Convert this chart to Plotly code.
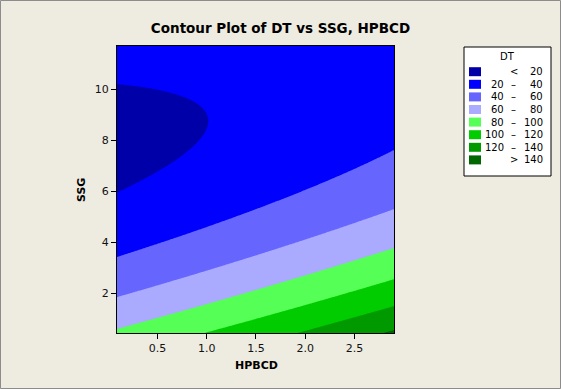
import numpy as np
import plotly.graph_objects as go

# Fitted response-surface model for DT:
# terms: const, HPBCD, SSG, HPBCD^2, SSG^2, HPBCD*SSG
coef_terms = ["const", "HPBCD", "SSG", "HPBCD^2", "SSG^2", "HPBCD*SSG"]
coef_values = [89.36, 19.15, -18.75, 0.974, 1.17, -1.725]

hpbcd_range = [0.09, 2.9]
ssg_range = [0.45, 11.7]

levels = [20, 40, 60, 80, 100, 120, 140]
band_colors = ["#0000A8", "#0000FF", "#6666FF", "#AAAAFF",
               "#55FF55", "#00CC00", "#009900", "#006600"]
x_ticks = [0.5, 1.0, 1.5, 2.0, 2.5]
x_tick_labels = ["0.5", "1.0", "1.5", "2.0", "2.5"]
y_ticks = [2, 4, 6, 8, 10]
y_tick_labels = ["2", "4", "6", "8", "10"]

W, H = 561, 389
L, R, T, B = 117, 394, 46, 333  # plot area in pixels


def px(xp):
    return (xp - L) / (R - L)


def py(yp):
    return (B - yp) / (B - T)


xs = np.linspace(hpbcd_range[0], hpbcd_range[1], 220)
ys = np.linspace(ssg_range[0], ssg_range[1], 220)
X, Y = np.meshgrid(xs, ys)
b0, b1, b2, b11, b22, b12 = coef_values
Z = b0 + b1 * X + b2 * Y + b11 * X ** 2 + b22 * Y ** 2 + b12 * X * Y

n = len(band_colors)
colorscale = []
for i, c in enumerate(band_colors):
    colorscale.append([i / n, c])
    colorscale.append([(i + 1) / n, c])

step = levels[1] - levels[0]
fig = go.Figure(go.Contour(
    x=xs, y=ys, z=Z,
    contours=dict(start=levels[0], end=levels[-1], size=step,
                  coloring="fill", showlines=False),
    colorscale=colorscale, showscale=False, line_width=0,
    hoverinfo="skip",
))

bg = "#EEEBE1"
font = "DejaVu Sans"

shapes = []
annotations = []

# outer frame of the picture
shapes.append(dict(type="rect", xref="paper", yref="paper",
                   x0=px(0.5), x1=px(W - 0.5), y0=py(H - 0.5), y1=py(0.5),
                   line=dict(color="#8C8C8C", width=1), fillcolor="rgba(0,0,0,0)",
                   layer="above"))

# legend box
lx0, lx1, ly0, ly1 = 464, 551, 47, 176
shapes.append(dict(type="rect", xref="paper", yref="paper",
                   x0=px(lx0), x1=px(lx1), y0=py(ly1), y1=py(ly0),
                   line=dict(color="black", width=1), fillcolor="white",
                   layer="above"))
annotations.append(dict(text="DT", xref="paper", yref="paper",
                        x=px(507.5), y=py(56), showarrow=False,
                        xanchor="center", yanchor="middle",
                        font=dict(family=font, size=10, color="black")))

row0, drow = 71.7, 12.6
labels = []
labels.append(("<", str(levels[0])))
for a, b in zip(levels[:-1], levels[1:]):
    labels.append((str(a), str(b)))
labels.append((">", str(levels[-1])))

for i, (c, (lft, rgt)) in enumerate(zip(band_colors, labels)):
    yc = row0 + i * drow
    shapes.append(dict(type="rect", xref="paper", yref="paper",
                       x0=px(469), x1=px(481), y0=py(yc + 4.5), y1=py(yc - 4.5),
                       line=dict(width=0), fillcolor=c, layer="above"))
    if lft in ("<", ">"):
        annotations.append(dict(text=lft, xref="paper", yref="paper",
                                x=px(513.5), y=py(yc), showarrow=False,
                                xanchor="center", yanchor="middle",
                                font=dict(family=font, size=10, color="black")))
    else:
        annotations.append(dict(text=lft, xref="paper", yref="paper",
                                x=px(506), y=py(yc), showarrow=False,
                                xanchor="right", yanchor="middle",
                                font=dict(family=font, size=10, color="black")))
        annotations.append(dict(text="\u2013", xref="paper", yref="paper",
                                x=px(513.5), y=py(yc), showarrow=False,
                                xanchor="center", yanchor="middle",
                                font=dict(family=font, size=10, color="black")))
    annotations.append(dict(text=rgt, xref="paper", yref="paper",
                            x=px(544.5), y=py(yc), showarrow=False,
                            xanchor="right", yanchor="middle",
                            font=dict(family=font, size=10, color="black")))

# axis titles
annotations.append(dict(text="<b>HPBCD</b>", xref="paper", yref="paper",
                        x=px(256.5), y=py(365), showarrow=False,
                        xanchor="center", yanchor="middle",
                        font=dict(family=font, size=11, color="black")))
annotations.append(dict(text="<b>SSG</b>", xref="paper", yref="paper",
                        x=px(81), y=py(190), showarrow=False, textangle=-90,
                        xanchor="center", yanchor="middle",
                        font=dict(family=font, size=11, color="black")))

fig.update_layout(
    width=W, height=H,
    margin=dict(l=L, r=W - R, t=T, b=H - B, pad=0),
    paper_bgcolor=bg, plot_bgcolor=bg,
    title=dict(text="<b>Contour Plot of DT vs SSG, HPBCD</b>",
               xref="paper", x=px(280.5), xanchor="center",
               yref="container", y=1 - 28 / H, yanchor="middle",
               font=dict(family=font, size=13.5, color="black")),
    shapes=shapes, annotations=annotations,
    showlegend=False,
)
fig.update_xaxes(range=hpbcd_range, tickvals=x_ticks, ticktext=x_tick_labels,
                 ticks="outside", ticklen=5, tickcolor="black", showgrid=False,
                 zeroline=False, showline=True, linecolor="black", linewidth=1,
                 mirror=True, tickfont=dict(family=font, size=11, color="#111111"))
fig.update_yaxes(range=ssg_range, tickvals=y_ticks, ticktext=y_tick_labels,
                 ticks="outside", ticklen=5, tickcolor="black", showgrid=False,
                 zeroline=False, showline=True, linecolor="black", linewidth=1,
                 mirror=True, tickfont=dict(family=font, size=11, color="#111111"))

fig.write_html("out.html",
               config={"displayModeBar": False},
               post_script="document.body.style.margin='0';"
                           "document.body.style.overflow='hidden';")
